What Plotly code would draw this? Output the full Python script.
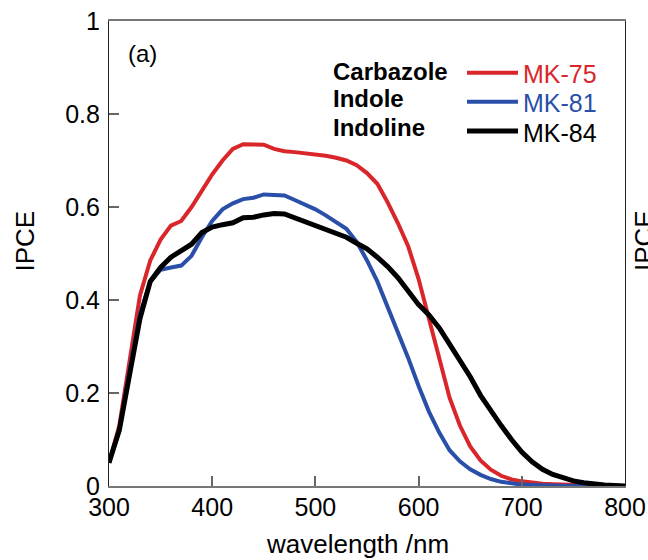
import plotly.graph_objects as go

wavelength = [300, 310, 320, 330, 340, 350, 360, 370, 380, 390,
              400, 410, 420, 430, 440, 450, 460, 470, 480, 490,
              500, 510, 520, 530, 540, 550, 560, 570, 580, 590,
              600, 610, 620, 630, 640, 650, 660, 670, 680, 690,
              700, 710, 720, 730, 740, 750, 760, 770, 780, 790, 800]

mk75 = [0.05, 0.13, 0.27, 0.41, 0.485, 0.53, 0.56, 0.57, 0.60, 0.635,
        0.67, 0.70, 0.725, 0.735, 0.735, 0.734, 0.725, 0.72, 0.718, 0.716,
        0.713, 0.71, 0.706, 0.70, 0.69, 0.673, 0.65, 0.61, 0.565, 0.515,
        0.445, 0.36, 0.275, 0.19, 0.13, 0.085, 0.055, 0.035, 0.022, 0.014,
        0.010, 0.007, 0.005, 0.004, 0.003, 0.002, 0.001, 0.001, 0.0, 0.0, 0.0]

mk81 = [0.05, 0.12, 0.25, 0.37, 0.44, 0.465, 0.47, 0.474, 0.495, 0.535,
        0.57, 0.595, 0.608, 0.617, 0.62, 0.627, 0.626, 0.625, 0.615, 0.605,
        0.595, 0.582, 0.568, 0.553, 0.525, 0.485, 0.44, 0.385, 0.335, 0.275,
        0.215, 0.16, 0.115, 0.077, 0.053, 0.036, 0.024, 0.015, 0.009, 0.005,
        0.003, 0.002, 0.001, 0.0, 0.0, 0.0, 0.0, 0.0, 0.0, 0.0, 0.0]

mk84 = [0.05, 0.12, 0.24, 0.36, 0.44, 0.47, 0.492, 0.505, 0.52, 0.545,
        0.557, 0.562, 0.566, 0.577, 0.578, 0.583, 0.586, 0.585, 0.577, 0.568,
        0.56, 0.552, 0.543, 0.535, 0.522, 0.51, 0.492, 0.472, 0.448, 0.42,
        0.39, 0.368, 0.34, 0.305, 0.27, 0.235, 0.195, 0.16, 0.13, 0.10,
        0.073, 0.052, 0.036, 0.025, 0.017, 0.011, 0.007, 0.004, 0.002, 0.001, 0.0]

series_names = ["MK-75", "MK-81", "MK-84"]
series_groups = ["Carbazole", "Indole", "Indoline"]
series_colors = ["#d9262b", "#2a4fa8", "#000000"]
series_widths = [4, 4, 5]
series_values = [mk75, mk81, mk84]

x_ticks = [300, 400, 500, 600, 700, 800]
y_ticks = [0, 0.2, 0.4, 0.6, 0.8, 1]
y_tick_text = ["0", "0.2", "0.4", "0.6", "0.8", "1"]

FONT = "Liberation Sans, Arial, sans-serif"
W, H = 648, 560
# plot area in window pixels: x 109..625, y 21..486
ML, MR, MT, MB = 109, 648 - 625, 21, 560 - 486
PW, PH = W - ML - MR, H - MT - MB


def px2paper(px, py):
    return (px - ML) / PW, (H - MB - py) / PH


fig = go.Figure()
for name, vals, col, lw in zip(series_names, series_values, series_colors, series_widths):
    fig.add_trace(go.Scatter(x=wavelength, y=vals, mode="lines", name=name,
                             line=dict(color=col, width=lw), showlegend=False))

annotations = []
shapes = []
label_y = [71, 99, 127.5]
mk_y = [74, 103.5, 132.5]
swatch_y = [72.7, 101.7, 131]
for i in range(3):
    gx, gy = px2paper(331, label_y[i])
    annotations.append(dict(x=gx, y=gy, xref="paper", yref="paper", xanchor="left", yanchor="middle",
                            text="<b>%s</b>" % series_groups[i], showarrow=False,
                            font=dict(family=FONT, size=24, color="#000")))
    mx, my = px2paper(521, mk_y[i])
    annotations.append(dict(x=mx, y=my, xref="paper", yref="paper", xanchor="left", yanchor="middle",
                            text=series_names[i], showarrow=False,
                            font=dict(family=FONT, size=25, color=series_colors[i])))
    x0, y0 = px2paper(467, swatch_y[i])
    x1, _ = px2paper(518, swatch_y[i])
    shapes.append(dict(type="line", xref="paper", yref="paper", x0=x0, x1=x1, y0=y0, y1=y0,
                       line=dict(color=series_colors[i], width=series_widths[i])))

ax, ay = px2paper(142, 53)
annotations.append(dict(x=ax, y=ay, xref="paper", yref="paper", xanchor="center", yanchor="middle",
                        text="(a)", showarrow=False, font=dict(family=FONT, size=24, color="#000")))
tx, ty = px2paper(357, 544)
annotations.append(dict(x=tx, y=ty, xref="paper", yref="paper", xanchor="center", yanchor="middle",
                        text="wavelength /nm", showarrow=False, font=dict(family=FONT, size=26, color="#000")))
yx, yy = px2paper(24, 241.5)
annotations.append(dict(x=yx, y=yy, xref="paper", yref="paper", xanchor="center", yanchor="middle",
                        text="IPCE", textangle=-90, showarrow=False, font=dict(family=FONT, size=26, color="#000")))
rx, ry = px2paper(644, 241)
annotations.append(dict(x=rx, y=ry, xref="paper", yref="paper", xanchor="center", yanchor="middle",
                        text="IPCE", textangle=-90, showarrow=False, font=dict(family=FONT, size=26, color="#000")))

tick_common = dict(ticks="inside", ticklen=10, tickwidth=1.5, tickcolor="#666",
                   showgrid=False, zeroline=False, mirror=True, showline=True,
                   tickfont=dict(family=FONT, size=25, color="#000"))

fig.update_layout(
    width=W, height=H,
    margin=dict(l=ML, r=MR, t=MT, b=MB, autoexpand=False),
    paper_bgcolor="white", plot_bgcolor="white",
    xaxis=dict(range=[300, 800], tickvals=x_ticks, ticklabelstandoff=-2,
               linecolor="#777", linewidth=1.6, **tick_common),
    yaxis=dict(range=[0, 1], tickvals=y_ticks, ticktext=y_tick_text, ticklabelstandoff=3,
               linecolor="#222", linewidth=1.1, **tick_common),
    annotations=annotations, shapes=shapes, showlegend=False,
)

fig.write_html("out.html", config={"displayModeBar": False},
               post_script="document.body.style.margin='0';document.body.style.overflow='hidden';window.scrollTo(0,0);")
